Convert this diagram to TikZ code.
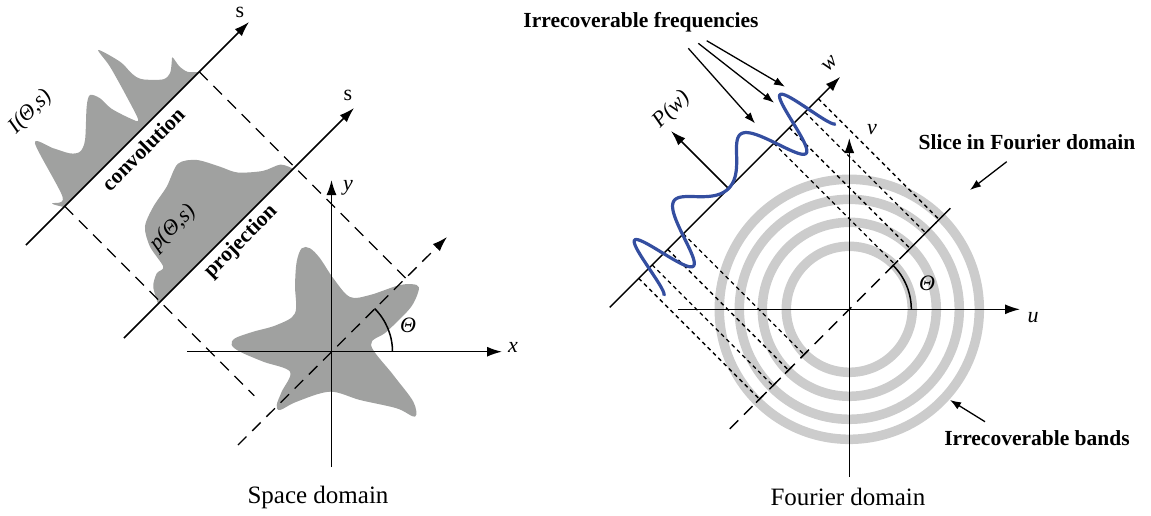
\documentclass[tikz,border=0pt]{standalone}
\usepackage{fontspec}
\setmainfont{Liberation Serif}
\usetikzlibrary{arrows.meta}
\definecolor{shapegray}{RGB}{160,161,160}
\definecolor{ringgray}{RGB}{204,204,204}
\definecolor{waveblue}{RGB}{52,78,160}

\tikzset{
  axis/.style={line width=1.5pt, -{Latex[length=15pt,width=10pt]}},
  projline/.style={line width=1.3pt, dash pattern=on 12pt off 8pt},
  fineline/.style={line width=1.3pt, dash pattern=on 4pt off 3.5pt},
  pointer/.style={line width=1.3pt, -{Latex[length=11pt,width=8pt]}},
  ring/.style={ringgray, line width=9.5pt},
  lbl/.style={font=\fontsize{22}{26}\selectfont\itshape, inner sep=0pt},
  upl/.style={font=\fontsize{22}{26}\selectfont, inner sep=0pt},
  boldlbl/.style={font=\fontsize{21.5}{26}\selectfont\bfseries, inner sep=0pt},
  caption/.style={font=\fontsize{25}{30}\selectfont, inner sep=0pt}
}

\begin{document}
\begin{tikzpicture}[x=1pt,y=1pt]
\useasboundingbox (0,0) rectangle (1151,-515);

% ---------- space domain ----------
\coordinate (O) at (331.5,-351.7);
\coordinate (xL) at (187,-351.7);
\coordinate (xR) at (502,-351.7);
\coordinate (yB) at (331.5,-467);
\coordinate (yT) at (331.5,-180);
\coordinate (dB) at (238,-445);
\coordinate (dT) at (447,-237);
\coordinate (aB) at (26,-245);
\coordinate (aT) at (249,-22);
\coordinate (bB) at (124,-338);
\coordinate (bT) at (354,-108);
\coordinate (A1) at (199.25,-71.75);
\coordinate (A2) at (405.5,-278);
\coordinate (B1) at (64.75,-206.25);
\coordinate (B2) at (254.25,-395.75);

% object
\fill[shapegray] plot[smooth cycle, tension=0.55] coordinates {
  (301.7,-248.3) (296.7,-261.7) (295,-285) (295,-313.3) (276.7,-325)
  (253.3,-331.7) (235,-338.3) (231.7,-345) (240,-351.7) (263.3,-361.7)
  (290,-371.7) (281.7,-391.7) (276.7,-405) (280,-410) (296.7,-401.7)
  (330,-391.7) (360,-400) (396.7,-408.3) (415,-416.7) (413.3,-401.7)
  (393.3,-375) (371,-345) (386.7,-331.7) (410,-308.3) (418.3,-291.7)
  (416.7,-285) (400,-285) (370,-295) (350,-297) (333.3,-278.3)
  (320,-258.3) (310,-248.3)};

% convolution profile
\begin{scope}[shift={(B1)}, rotate=45]
  \fill[shapegray] plot[smooth, tension=0.5] coordinates {
    (-1,0) (-7,11) (5,8) (23.5,65.6) (32.9,49.1) (41.1,33.7) (49.4,27.8)
    (61.2,32.5) (85.9,54.9) (96.5,60.8) (101.3,51.4) (102,36.1) (108.3,16.1)
    (113,9) (121.3,33.7) (130.7,66.7) (134.2,86.8) (141.3,63.1) (141.3,49)
    (142,40.8) (146,33.2) (159.4,20.1) (168.4,19.6) (176.7,25.5) (181.5,29)
    (180,18) (182,8) (190,0)} -- cycle;
\end{scope}

% projection profile
\begin{scope}[shift={(160.25,-301.75)}, rotate=45]
  \fill[shapegray] plot[smooth, tension=0.5] coordinates {
    (-3,0) (5.7,15.6) (17.6,22.6) (26.9,22.6) (31.7,46.2) (42.3,63.9)
    (62.3,72.1) (85.9,76.8) (110,85.1) (126,74.5) (137.7,53.3) (146,36.8)
    (165,20) (182,12) (188,0)} -- cycle;
\end{scope}

\draw[projline] (A1) -- (A2);
\draw[projline] (B1) -- (B2);
\draw[projline, -{Latex[length=15pt,width=10pt]}] (dB) -- (dT);
\draw[axis] (aB) -- (aT);
\draw[axis] (bB) -- (bT);
\draw[axis] (xL) -- (xR);
\draw[axis] (yB) -- (yT);
\draw[line width=1.5pt] (O) ++(61,0) arc (0:45:61);

\node[upl] (s1) at (240,-12) {s};
\node[upl] (s2) at (348,-95) {s};
\node[lbl] (xlab) at (513,-347) {x};
\node[lbl] (ylab) at (348,-188) {y};
\node[lbl] (th1) at (408,-325) {Θ};
\node[lbl, rotate=45] (Ilab) at (31,-112) {I(Θ,s)};
\node[lbl, rotate=45] (plab) at (173,-228) {p(Θ,s)};
\node[boldlbl, rotate=45] (conv) at (143,-149) {convolution};
\node[boldlbl, rotate=45] (proj) at (241,-242) {projection};
\node[caption] (cap1) at (318,-497) {Space domain};

% ---------- Fourier domain ----------
\coordinate (F) at (849.3,-309.3);
\coordinate (uL) at (678,-309.3);
\coordinate (uR) at (1020,-309.3);
\coordinate (vB) at (849.3,-477);
\coordinate (vT) at (849.3,-138);

\foreach \r in {63,87,110,130}
  \draw[ring] (F) circle (\r);

\begin{scope}[shift={(F)}, rotate=45]
  \coordinate (sL) at (-169,0);
  \coordinate (sR) at (144,0);
  \coordinate (wL) at (-168,170.8);
  \coordinate (wR) at (158,170.8);
  \coordinate (Pb) at (0,170.8);
  \coordinate (Pt) at (0,252);
  \draw[projline] (sL) -- (sR);
  \foreach \p in {-127,-108,-86,-64,64,86,108,127} {
    \draw[fineline] (\p,170.8) -- (\p,0);
    \draw[line width=1.3pt] (\p-5,0) -- (\p+5,0);
  }
  \draw[line width=1.5pt, -{Latex[length=15pt,width=10pt]}] (wL) -- (wR);
  \draw[line width=1.5pt, -{Latex[length=15pt,width=10pt]}] (Pb) -- (Pt);
  \draw[waveblue, line width=3.2pt] plot[domain=-121.6:121.6, samples=240, variable=\t]
    (\t, {170.8+30*sin(180*(\t/65)*(\t/65))});
\end{scope}

\draw[axis] (uL) -- (uR);
\draw[axis] (vB) -- (vT);
\draw[line width=1.5pt] (F) ++(62,0) arc (0:45:62);

\node[lbl] (ulab) at (1033,-318) {u};
\node[lbl] (vlab) at (872,-130) {v};
\node[lbl, rotate=45] (wlab) at (830,-64) {w};
\node[lbl, rotate=45] (Plab) at (672,-110) {P(w)};
\node[lbl] (th2) at (927,-283) {Θ};

\node[boldlbl] (freq) at (641,-22) {Irrecoverable frequencies};
\node[boldlbl] (slice) at (1027,-142) {Slice in Fourier domain};
\node[boldlbl] (bands) at (1037,-438) {Irrecoverable bands};
\node[caption] (cap2) at (848,-497) {Fourier domain};

\coordinate (f1s) at (688.3,-48.3);
\coordinate (f2s) at (698.3,-43.3);
\coordinate (f3s) at (706.7,-40.7);
\coordinate (f1e) at (755,-123.3);
\coordinate (f2e) at (774,-102.7);
\coordinate (f3e) at (785,-86.7);
\coordinate (sls) at (1006.7,-161.7);
\coordinate (sle) at (970,-190);
\coordinate (bds) at (985,-421.7);
\coordinate (bde) at (950,-400);
\draw[pointer] (f1s) -- (f1e);
\draw[pointer] (f2s) -- (f2e);
\draw[pointer] (f3s) -- (f3e);
\draw[pointer] (sls) -- (sle);
\draw[pointer] (bds) -- (bde);
\end{tikzpicture}
\end{document}
